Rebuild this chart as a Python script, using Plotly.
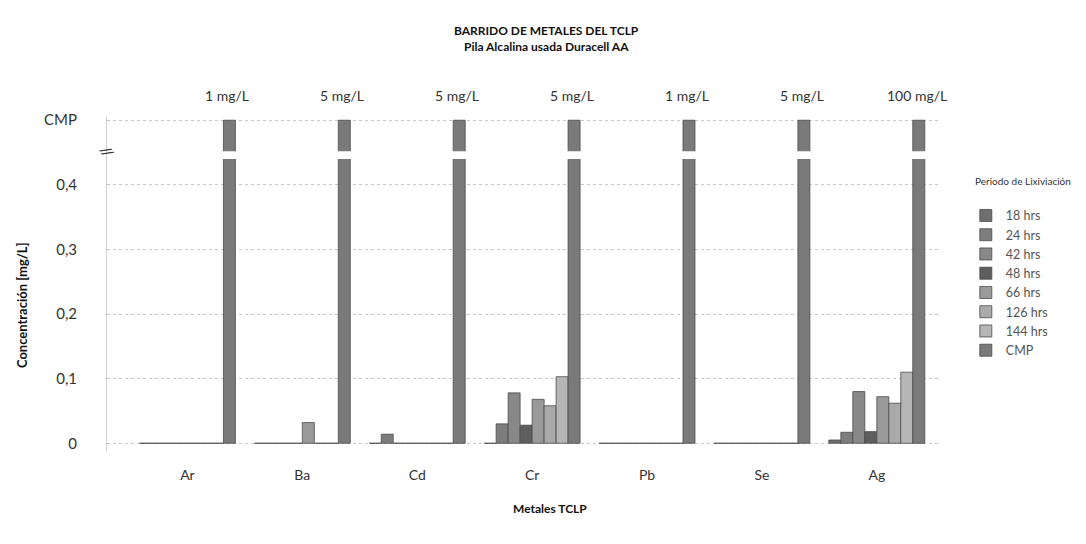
import plotly.graph_objects as go

# ---------------- data ----------------
metals = ["Ar", "Ba", "Cd", "Cr", "Pb", "Se", "Ag"]
series_names = ["18 hrs", "24 hrs", "42 hrs", "48 hrs", "66 hrs", "126 hrs", "144 hrs"]
h18 = [0, 0, 0, 0, 0, 0, 0.005]
h24 = [0, 0, 0.014, 0.030, 0, 0, 0.017]
h42 = [0, 0, 0, 0.078, 0, 0, 0.080]
h48 = [0, 0, 0, 0.028, 0, 0, 0.018]
h66 = [0, 0.032, 0, 0.068, 0, 0, 0.072]
h126 = [0, 0, 0, 0.058, 0, 0, 0.062]
h144 = [0, 0, 0, 0.103, 0, 0, 0.110]
cmp_limits_mgL = [1, 5, 5, 5, 1, 5, 100]   # CMP (broken-axis bars)
cmp_axis_level = 0.5                       # where the "CMP" tick sits on the broken axis
y_tickvals = [0, 0.1, 0.2, 0.3, 0.4, 0.5]
y_ticktext = ["0", "0,1", "0,2", "0,3", "0,4", "CMP"]

series_values = [h18, h24, h42, h48, h66, h126, h144]
colors = ["#6f6f6f", "#7d7d7d", "#888888", "#5e5e5e", "#9a9a9a", "#aaaaaa", "#b6b6b6"]
cmp_color = "#7a7a7a"

FONT = "Lato"

fig = go.Figure()
for name, vals, col in zip(series_names, series_values, colors):
    fig.add_bar(x=metals, y=vals, name=name,
                marker=dict(color=col, line=dict(color="#4a4a4a", width=0.8)))

cmp_heights = [cmp_axis_level for _ in cmp_limits_mgL]
fig.add_bar(x=metals, y=cmp_heights, name="CMP", customdata=cmp_limits_mgL,
            marker=dict(color=cmp_color, line=dict(color="#4a4a4a", width=0.8)))

annotations = []
for m, v in zip(metals, cmp_limits_mgL):
    annotations.append(dict(x=m, y=cmp_axis_level, xref="x", yref="y",
                            text=f"{v} mg/L", showarrow=False, xshift=40, yshift=14,
                            yanchor="bottom", font=dict(family=FONT, size=14, color="#333")))

# titles
annotations += [
    dict(x=0.528, y=1.26, xref="paper", yref="paper", showarrow=False,
         xanchor="center", yanchor="middle",
         text="<b>BARRIDO DE METALES DEL TCLP</b>",
         font=dict(family=FONT, size=12, color="#111")),
    dict(x=0.528, y=1.21, xref="paper", yref="paper", showarrow=False,
         xanchor="center", yanchor="middle",
         text="<b>Pila Alcalina usada Duracell AA</b>",
         font=dict(family=FONT, size=12, color="#111")),
    dict(x=0.532, y=-0.171, xref="paper", yref="paper", showarrow=False,
         xanchor="center", yanchor="middle",
         text="<b>Metales TCLP</b>", font=dict(family=FONT, size=12, color="#111")),
    dict(x=-0.102, y=0.437, xref="paper", yref="paper", showarrow=False, textangle=-90,
         xanchor="center", yanchor="middle",
         text="<b>Concentración [mg/L]</b>", font=dict(family=FONT, size=13, color="#111")),
    dict(x=0, y=0.452, xref="paper", yref="y", showarrow=False, textangle=60,
         xanchor="center", yanchor="middle",
         text="//", font=dict(family=FONT, size=15, color="#333")),
    dict(x=1.040, y=0.808, xref="paper", yref="paper", showarrow=False,
         xanchor="left", yanchor="middle",
         text="Periodo de Lixiviación", font=dict(family=FONT, size=10, color="#333")),
]

# the page body adds an 8 px offset, so the figure is sized to fit the 1086x544 window
fig.update_layout(
    width=1070, height=528,
    margin=dict(l=99, r=138, t=109, b=85),
    paper_bgcolor="white", plot_bgcolor="white",
    barmode="group", bargap=0.165, bargroupgap=0,
    font=dict(family=FONT, color="#333"),
    annotations=annotations,
    shapes=[dict(type="rect", xref="x domain", yref="y", x0=0, x1=1, y0=0.44, y1=0.452,
                 fillcolor="white", line=dict(width=0), layer="above")],
    legend=dict(x=1.031, y=0.749, xanchor="left", yanchor="top",
                bgcolor="rgba(0,0,0,0)", itemwidth=30,
                font=dict(family=FONT, size=12.5, color="#555")),
    showlegend=True,
)

fig.update_xaxes(type="category", range=[-0.7, 6.55], showgrid=False, ticks="",
                 tickfont=dict(family=FONT, size=14, color="#333"), ticklabelstandoff=14,
                 showline=False, zeroline=False)
fig.update_yaxes(range=[-0.012, 0.505], tickvals=y_tickvals, ticktext=y_ticktext,
                 showgrid=True, gridcolor="#c8c8c8", griddash="dot", gridwidth=1,
                 zeroline=False, showline=True, linecolor="#d0d0d0", linewidth=1,
                 ticks="", ticklabelstandoff=26,
                 tickfont=dict(family=FONT, size=15, color="#333"))

fig.write_html("out.html")
